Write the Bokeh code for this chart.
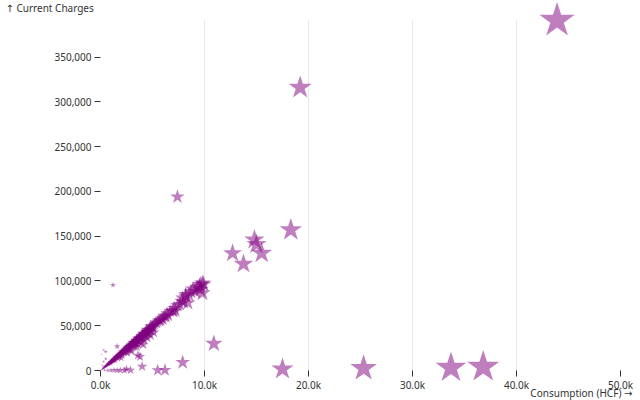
from bokeh.plotting import figure
from bokeh.models import (Range1d, FixedTicker, NumeralTickFormatter,
                          CustomJSTickFormatter, ColumnDataSource)
from bokeh.core.properties import value
from bokeh.embed import file_html
from bokeh.resources import INLINE

# ---- data ----
# outliers and scattered points
other_consumption = [43900, 19200, 7400, 18300, 14800, 15000, 15500, 12700, 13750, 10900,
                     17500, 25300, 33700, 36800,
                     7900, 6200, 5500, 4000, 3800, 3600, 2900, 1600, 1200,
                     400, 700, 1000, 1300, 1600, 1900, 2300, 2500,
                     300, 500, 200, 500, 100, 300]
other_charges = [391000, 316000, 194000, 157000, 146000, 141000, 131000, 131000, 119000, 30000,
                 1500, 2500, 3000, 4000,
                 9000, 500, 300, 4500, 15500, 17000, 300, 27000, 95500,
                 200, 100, 100, 300, 100, 200, 100, 1500,
                 10000, 13000, 5600, 21000, 18000, 23000]

# main cluster along the rate line
band_consumption = [50, 100, 150, 200, 250, 300, 350, 400, 450, 500, 550, 600, 650, 700, 750, 800, 850, 900, 950, 1000,
                    1050, 1100, 1150, 1200, 1250, 1300, 1350, 1400, 1450, 1500, 1550, 1600, 1650, 1700, 1750, 1800, 1850, 1900, 1950, 2000,
                    2050, 2100, 2150, 2200, 2250, 2300, 2350, 2400, 2450, 2500, 2550, 2600, 2650, 2700, 2750, 2800, 2850, 2900, 2950, 3000,
                    3050, 3100, 3150, 3200, 3250, 3300, 3350, 3400, 3450, 3500, 3550, 3600, 3650, 3700, 3750, 3800, 3850, 3900, 3950, 4000,
                    4050, 4100, 4150, 4200, 4250, 4300, 4400, 4450, 4500, 4600, 4700, 4800, 4900, 5000,
                    1200, 1800, 2300, 2700, 3100, 3400, 3700, 4000, 4300, 4600,
                    1500, 2000, 2500, 3000, 3500, 4000, 4400, 4800,
                    1000, 1400, 1700, 2100, 2500, 2900, 3300, 3600, 3900, 4200, 4500, 4800, 5100,
                    800, 1300, 2000, 3000, 4100, 2600, 3500,
                    300, 550, 800, 1050, 1300, 1550, 1800, 2050, 2300, 2550, 2800, 3050, 3300, 3550, 3800, 4050, 4300, 4550, 4800, 5050,
                    450, 700, 950, 1200, 1450, 1700, 1950, 2200, 2450, 2700, 2950, 3200, 3450, 3700, 3950, 4200, 4450, 4700, 4950,
                    5100, 5300, 5600, 5800, 6100, 6300,
                    5200, 5400, 5500, 5700, 5900, 6000, 6200, 6400, 6500, 6700, 6900, 7000, 7100, 7200, 7400, 7600,
                    7800, 7900, 8000, 8200, 8200, 8400, 8500, 8700, 8900, 9100, 9300, 9500, 9600, 9600, 9800, 9800, 9900]
band_charges = [400, 1100, 1300, 2100, 2300, 3100, 3200, 4100, 4200, 5000, 5100, 5600, 6500, 6600, 7500, 7600, 8400, 8600, 9400, 9500,
                10400, 10300, 11300, 11400, 12300, 12200, 13300, 13200, 14300, 14100, 15200, 15100, 16200, 15900, 17300, 16800, 18100, 18600, 18500, 19700,
                19300, 20800, 20400, 21600, 21300, 22700, 22100, 23500, 23300, 24600, 24100, 25700, 25200, 26500, 26100, 27600, 27200, 28500, 27900, 29600,
                29100, 30500, 30200, 31400, 30900, 32500, 31800, 33400, 33100, 34500, 33900, 35600, 35000, 36300, 35800, 37400, 36900, 38300, 37600, 39400,
                39000, 40500, 39700, 41400, 40800, 42600, 43100, 42200, 44600, 45300, 45900, 47100, 48200, 49300,
                10200, 15300, 19900, 23800, 27500, 30200, 33100, 36200, 39100, 42300,
                15600, 20900, 26000, 31200, 36200, 41500, 45600, 49800,
                8000, 11200, 13500, 16800, 20200, 23000, 26500, 29000, 31500, 34000, 36500, 39500, 42500,
                7200, 11700, 14000, 21500, 29000, 19500, 26500,
                2800, 5200, 7500, 9800, 12300, 14600, 17000, 19200, 21700, 24000, 26400, 28600, 31100, 33400, 35800, 38100, 40500, 42700, 45200, 47500,
                4400, 6900, 9300, 11800, 14200, 16700, 19100, 21600, 24000, 26500, 28900, 31400, 33800, 36300, 38700, 41200, 43600, 46100, 48500,
                50200, 53500, 56500, 55800, 60200, 59800,
                51500, 52800, 54600, 55100, 58200, 57000, 61300, 63800, 61500, 66200, 67000, 66000, 69500, 66500, 72800, 74000,
                77600, 81000, 76300, 83000, 85000, 75500, 84500, 87800, 91000, 88500, 92500, 94000, 90500, 96000, 97500, 86500, 96500]

x_ticks = [0, 10000, 20000, 30000, 40000, 50000]
y_ticks = [0, 50000, 100000, 150000, 200000, 250000, 300000, 350000]
x_domain_max = 50000
y_label = "↑ Current Charges"
x_label = "Consumption (HCF) →"

consumption = band_consumption + other_consumption
charges = band_charges + other_charges

# sqrt radius scale
max_c = max(consumption)
sizes = [37 * (c / max_c) ** 0.5 for c in consumption]

src = ColumnDataSource(dict(x=consumption, y=charges, s=sizes))

FONT = "Noto Sans, DejaVu Sans"
TXT = "#333333"

p = figure(width=640, height=400, output_backend="svg", toolbar_location=None,
           x_range=Range1d(0, x_domain_max), y_range=Range1d(0, max(charges)),
           min_border_left=100, min_border_right=20, min_border_top=20, min_border_bottom=30)
p.outline_line_color = None
p.background_fill_color = "white"

p.scatter("x", "y", source=src, marker="star", size="s",
          fill_color="purple", fill_alpha=0.5, line_color=None, level="overlay")

xt = FixedTicker(ticks=x_ticks)
yt = FixedTicker(ticks=y_ticks)
p.xaxis.ticker = xt
p.yaxis.ticker = yt
p.xgrid.ticker = xt
p.xaxis.formatter = CustomJSTickFormatter(code="return (tick / 1000).toFixed(1) + 'k';")
p.yaxis.formatter = NumeralTickFormatter(format="0,0")
p.xgrid.grid_line_color = "#e6e6e6"
p.ygrid.grid_line_color = None

for ax in (p.xaxis[0], p.yaxis[0]):
    ax.axis_line_color = None
    ax.major_tick_line_color = TXT
    ax.major_tick_out = 6
    ax.major_tick_in = 0
    ax.minor_tick_line_color = None
    ax.major_label_text_font = FONT
    ax.major_label_text_font_size = "10px"
    ax.major_label_text_color = TXT
p.xaxis.major_label_standoff = 1
p.yaxis.major_label_standoff = 3

# axis titles as unclipped text glyphs anchored to the range corners
p.text(x=[0], y=[max(charges)], text=[y_label], x_offset=-95, y_offset=-13,
       text_align="left", text_baseline="middle", text_font=value(FONT),
       text_font_size=value("10px"), text_color=TXT, level="overlay")
p.text(x=[x_domain_max], y=[0], text=[x_label], x_offset=12, y_offset=22,
       text_align="right", text_baseline="middle", text_font=value(FONT),
       text_font_size=value("10px"), text_color=TXT, level="overlay")

open("out.html", "w").write(file_html(p, INLINE))
